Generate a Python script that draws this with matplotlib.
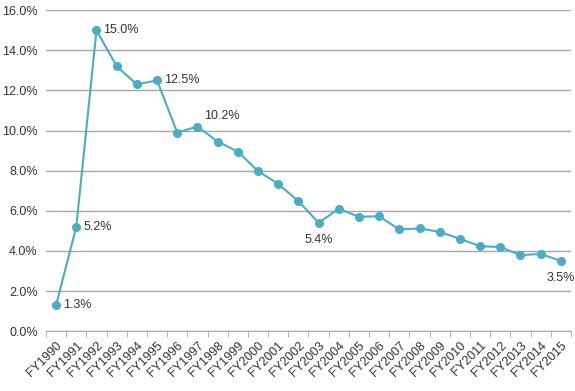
import numpy as np
import matplotlib.pyplot as plt
from matplotlib.ticker import FuncFormatter, FixedLocator

plt.rcParams['font.family'] = ['Liberation Sans', 'DejaVu Sans']

years = ['FY%d' % y for y in range(1990, 2016)]
values = [1.3, 5.2, 15.0, 13.2, 12.3, 12.5, 9.9, 10.2, 9.45, 8.95, 7.98, 7.34,
          6.48, 5.4, 6.1, 5.7, 5.73, 5.07, 5.12, 4.95, 4.6, 4.24, 4.19, 3.79,
          3.85, 3.5]
# labelled points: index -> (dx, dy, ha, va) offsets in points
labels = {0: (5, 0, 'left', 'center'), 1: (5, 0, 'left', 'center'),
          2: (5, 0, 'left', 'center'), 5: (5, 0, 'left', 'center'),
          7: (5, 3, 'left', 'bottom'), 13: (0, -8, 'center', 'top'),
          25: (0, -8, 'center', 'top')}

color = '#4bacc6'
fig = plt.figure(figsize=(5.75, 3.91), dpi=100)
ax = fig.add_axes([0.08, 0.153, 0.913, 0.821])

x = np.arange(len(years))
ax.plot(x, values, color=color, lw=1.5, marker='o', ms=5.5, zorder=3)

for i, (dx, dy, ha, va) in labels.items():
    ax.annotate('%.1f%%' % values[i], (x[i], values[i]), xytext=(dx, dy),
                textcoords='offset points', ha=ha, va=va, fontsize=9,
                color='#333333')

ax.set_xlim(-0.5, len(years) - 0.5)
ax.set_ylim(0, 16)
ax.set_yticks(np.arange(0, 16.1, 2))
ax.yaxis.set_major_formatter(FuncFormatter(lambda v, p: '%.1f%%' % v))
ax.grid(axis='y', color='#a6a6a6', lw=1)
ax.set_axisbelow(True)

ax.set_xticks(x)
ax.set_xticklabels(years, rotation=45, ha='right', rotation_mode='anchor')
ax.xaxis.set_minor_locator(FixedLocator(np.arange(-0.5, len(years), 1)))
ax.tick_params(axis='x', which='major', length=0, pad=6)
ax.tick_params(axis='x', which='minor', length=4, color='#a6a6a6')
ax.tick_params(axis='y', length=0, pad=6)
ax.tick_params(labelsize=9, colors='#333333')

for s in ['left', 'right', 'top']:
    ax.spines[s].set_visible(False)
ax.spines['bottom'].set_color('#a6a6a6')

fig.savefig('out.png', dpi=100)
